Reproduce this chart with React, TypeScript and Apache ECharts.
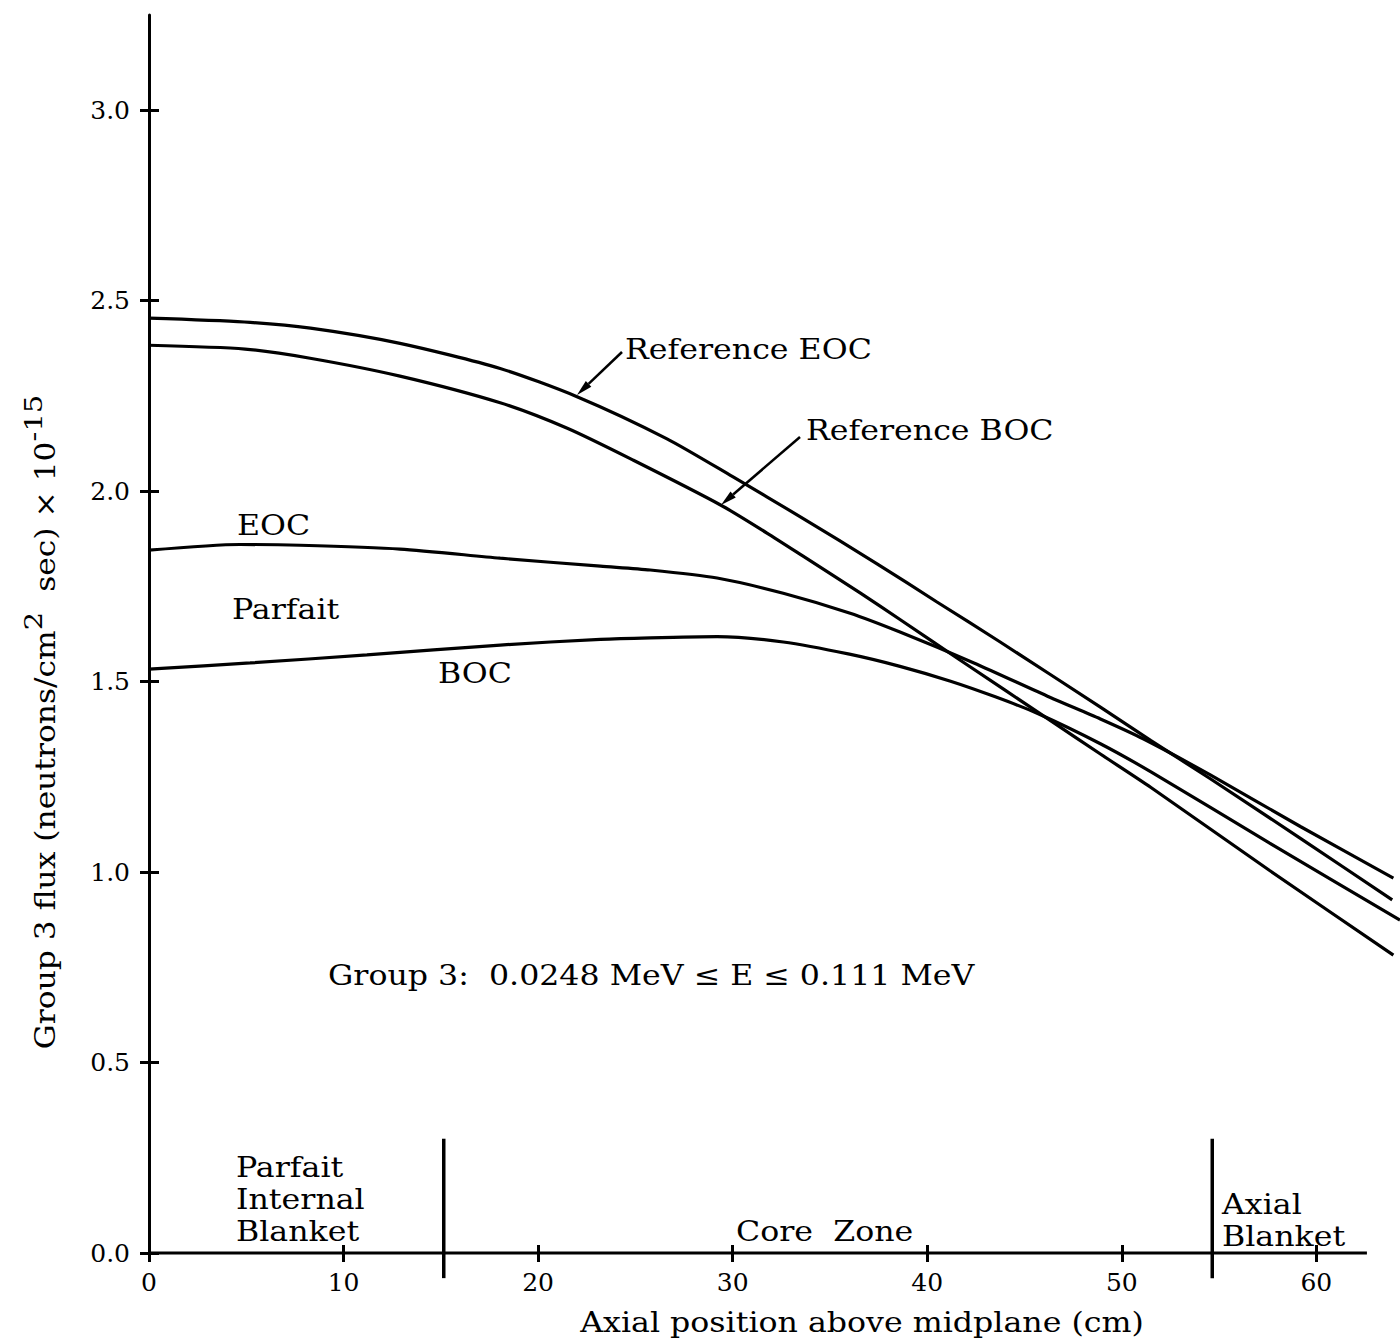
import React, { useEffect, useRef } from "react";
import * as echarts from "echarts";

// Axial position (cm) / Group 3 flux (x 10^15)
const refEOC: [number, number][] = [
  [0, 2.454], [4.9, 2.444], [8.3, 2.428], [12.9, 2.388], [18.05, 2.322], [22.0, 2.248],
  [26.6, 2.138], [30.0, 2.038], [33.5, 1.932], [37.4, 1.81], [40.5, 1.709], [43.75, 1.604],
  [48.9, 1.433], [51.5, 1.345], [54.55, 1.245], [59.2, 1.088], [63.9, 0.927],
];
const refBOC: [number, number][] = [
  [0, 2.383], [4.94, 2.373], [8.28, 2.349], [12.9, 2.302], [18.05, 2.232], [21.5, 2.165],
  [24.9, 2.081], [29.4, 1.963], [31.76, 1.89], [33.6, 1.83], [36.55, 1.733], [38.6, 1.663],
  [41.7, 1.556], [46.3, 1.399], [48.9, 1.31], [51.5, 1.222], [57.6, 1.004], [63.96, 0.782],
];
const parfaitEOC: [number, number][] = [
  [0, 1.845], [4.68, 1.86], [7.76, 1.858], [12.9, 1.848], [18.05, 1.824], [23.2, 1.803],
  [25.76, 1.793], [29.2, 1.772], [32.6, 1.732], [36.0, 1.68], [38.6, 1.63], [42.4, 1.549],
  [46.3, 1.459], [48.9, 1.402], [51.1, 1.35], [54.55, 1.255], [59.2, 1.119], [63.96, 0.984],
];
const parfaitBOC: [number, number][] = [
  [0, 1.533], [5.2, 1.549], [11.2, 1.57], [18.05, 1.596], [23.2, 1.611], [25.76, 1.615],
  [29.2, 1.618], [32.6, 1.604], [36.0, 1.572], [38.6, 1.54], [41.2, 1.501], [43.5, 1.46],
  [45.65, 1.417], [48.9, 1.337], [51.5, 1.263], [57.6, 1.076], [64.3, 0.874],
];
// Zone boundaries (cm) and the vertical extent of their marker lines
const zoneBoundaries: number[] = [15.15, 54.65];
const boundaryExtent: [number, number] = [-0.066, 0.3];
// Drawn extent of the x axis line (cm)
const xAxisLineExtent: [number, number] = [0, 62.6];

const xTicks: number[] = [0, 10, 20, 30, 40, 50, 60];
const yTicks: number[] = [0, 0.5, 1.0, 1.5, 2.0, 2.5, 3.0];

const FONT = "DejaVu Serif";
const SX = 1.13;

function arrow(x1: number, y1: number, x2: number, y2: number) {
  const dx = x2 - x1;
  const dy = y2 - y1;
  const n = Math.hypot(dx, dy);
  const ux = dx / n, uy = dy / n;
  const px = -uy, py = ux;
  const L = 16, W = 4;
  const bx = x2 - ux * L, by = y2 - uy * L;
  return [
    { type: "line", shape: { x1, y1, x2: bx, y2: by }, style: { stroke: "#000", lineWidth: 2.5 } },
    {
      type: "polygon",
      shape: { points: [[x2, y2], [bx + px * W, by + py * W], [bx - px * W, by - py * W]] },
      style: { fill: "#000" },
    },
  ];
}

function txt(x: number, y: number, text: string, size = 28, align = "left") {
  return {
    type: "text",
    x,
    y,
    scaleX: SX,
    style: { text, fontSize: size, fontFamily: FONT, fill: "#000", align, verticalAlign: "middle", lineHeight: 32 },
  };
}

export default function App() {
  const ref = useRef<HTMLDivElement>(null);
  useEffect(() => {
    if (!ref.current) return;
    const chart = echarts.init(ref.current, null, { renderer: "svg" });
    const lineSeries = (name: string, data: [number, number][]) => ({
      name,
      type: "line",
      data,
      smooth: 0.25,
      showSymbol: false,
      symbol: "none",
      clip: false,
      lineStyle: { color: "#000", width: 3.2 },
      silent: true,
    });
    const segment = (name: string, data: number[][], width: number) => ({
      name,
      type: "line",
      data,
      showSymbol: false,
      symbol: "none",
      clip: false,
      lineStyle: { color: "#000", width },
      silent: true,
    });
    const boundarySeries = zoneBoundaries.map((b, i) =>
      segment("boundary" + i, [[b, boundaryExtent[0]], [b, boundaryExtent[1]]], 3.5)
    );
    chart.setOption({
      animation: false,
      backgroundColor: "#fff",
      grid: { left: 149, top: 15, right: 0, bottom: 85 },
      xAxis: [
        {
          type: "value",
          min: 0,
          max: 64.3,
          axisLine: { show: false },
          axisTick: { show: true, customValues: xTicks, length: 9, lineStyle: { color: "#000", width: 3 } },
          axisLabel: {
            customValues: xTicks,
            color: "#000",
            fontSize: 25,
            fontFamily: FONT,
            margin: 17,
          },
          splitLine: { show: false },
        },
        {
          type: "value",
          min: 0,
          max: 64.3,
          position: "bottom",
          axisLine: { show: false },
          axisTick: { show: true, inside: true, customValues: xTicks, length: 8, lineStyle: { color: "#000", width: 3 } },
          axisLabel: { show: false },
          splitLine: { show: false },
        },
      ],
      yAxis: [
        {
          type: "value",
          min: 0,
          max: 3.25,
          axisLine: { show: true, lineStyle: { color: "#000", width: 3 } },
          axisTick: { show: true, customValues: yTicks, length: 9, lineStyle: { color: "#000", width: 3 } },
          axisLabel: {
            customValues: yTicks,
            formatter: (v: number) => v.toFixed(1),
            color: "#000",
            fontSize: 25,
            fontFamily: FONT,
            margin: 19,
          },
          splitLine: { show: false },
        },
        {
          type: "value",
          min: 0,
          max: 3.25,
          position: "left",
          axisLine: { show: false },
          axisTick: { show: true, inside: true, customValues: yTicks, length: 10, lineStyle: { color: "#000", width: 3 } },
          axisLabel: { show: false },
          splitLine: { show: false },
        },
      ],
      series: [
        segment("x axis", [[xAxisLineExtent[0], 0], [xAxisLineExtent[1], 0]], 3),
        lineSeries("Reference EOC", refEOC),
        lineSeries("Reference BOC", refBOC),
        lineSeries("Parfait EOC", parfaitEOC),
        lineSeries("Parfait BOC", parfaitBOC),
        ...boundarySeries,
      ],
      graphic: [
        {
          type: "text",
          x: 46,
          y: 722,
          rotation: Math.PI / 2,
          scaleX: 1.16,
          style: {
            text: "{a|Group 3 flux (neutrons/cm}{s|2}{a|  sec) × 10}{s|-15}",
            align: "center",
            verticalAlign: "middle",
            fill: "#000",
            rich: {
              a: { fontSize: 27, fontFamily: FONT, fill: "#000", lineHeight: 50 },
              s: { fontSize: 25, fontFamily: FONT, fill: "#000", lineHeight: 26, verticalAlign: "top" },
            },
          },
        },
        txt(625, 349, "Reference EOC"),
        txt(806, 430, "Reference BOC"),
        ...arrow(622, 352, 577, 395),
        ...arrow(800, 437, 721, 505),
        txt(237, 525, "EOC"),
        txt(232, 609, "Parfait"),
        txt(438, 673, "BOC"),
        txt(328, 975, "Group 3:  0.0248 MeV ≤ E ≤ 0.111 MeV"),
        txt(236, 1199, "Parfait\nInternal\nBlanket"),
        txt(736, 1231, "Core  Zone"),
        txt(1222, 1220, "Axial\nBlanket"),
        txt(862, 1322, "Axial position above midplane (cm)", 28, "center"),
      ],
    });
    return () => chart.dispose();
  }, []);
  return (
    <div
      ref={ref}
      style={{ position: "absolute", left: 0, top: 0, width: 1400, height: 1338, background: "#fff" }}
    />
  );
}
